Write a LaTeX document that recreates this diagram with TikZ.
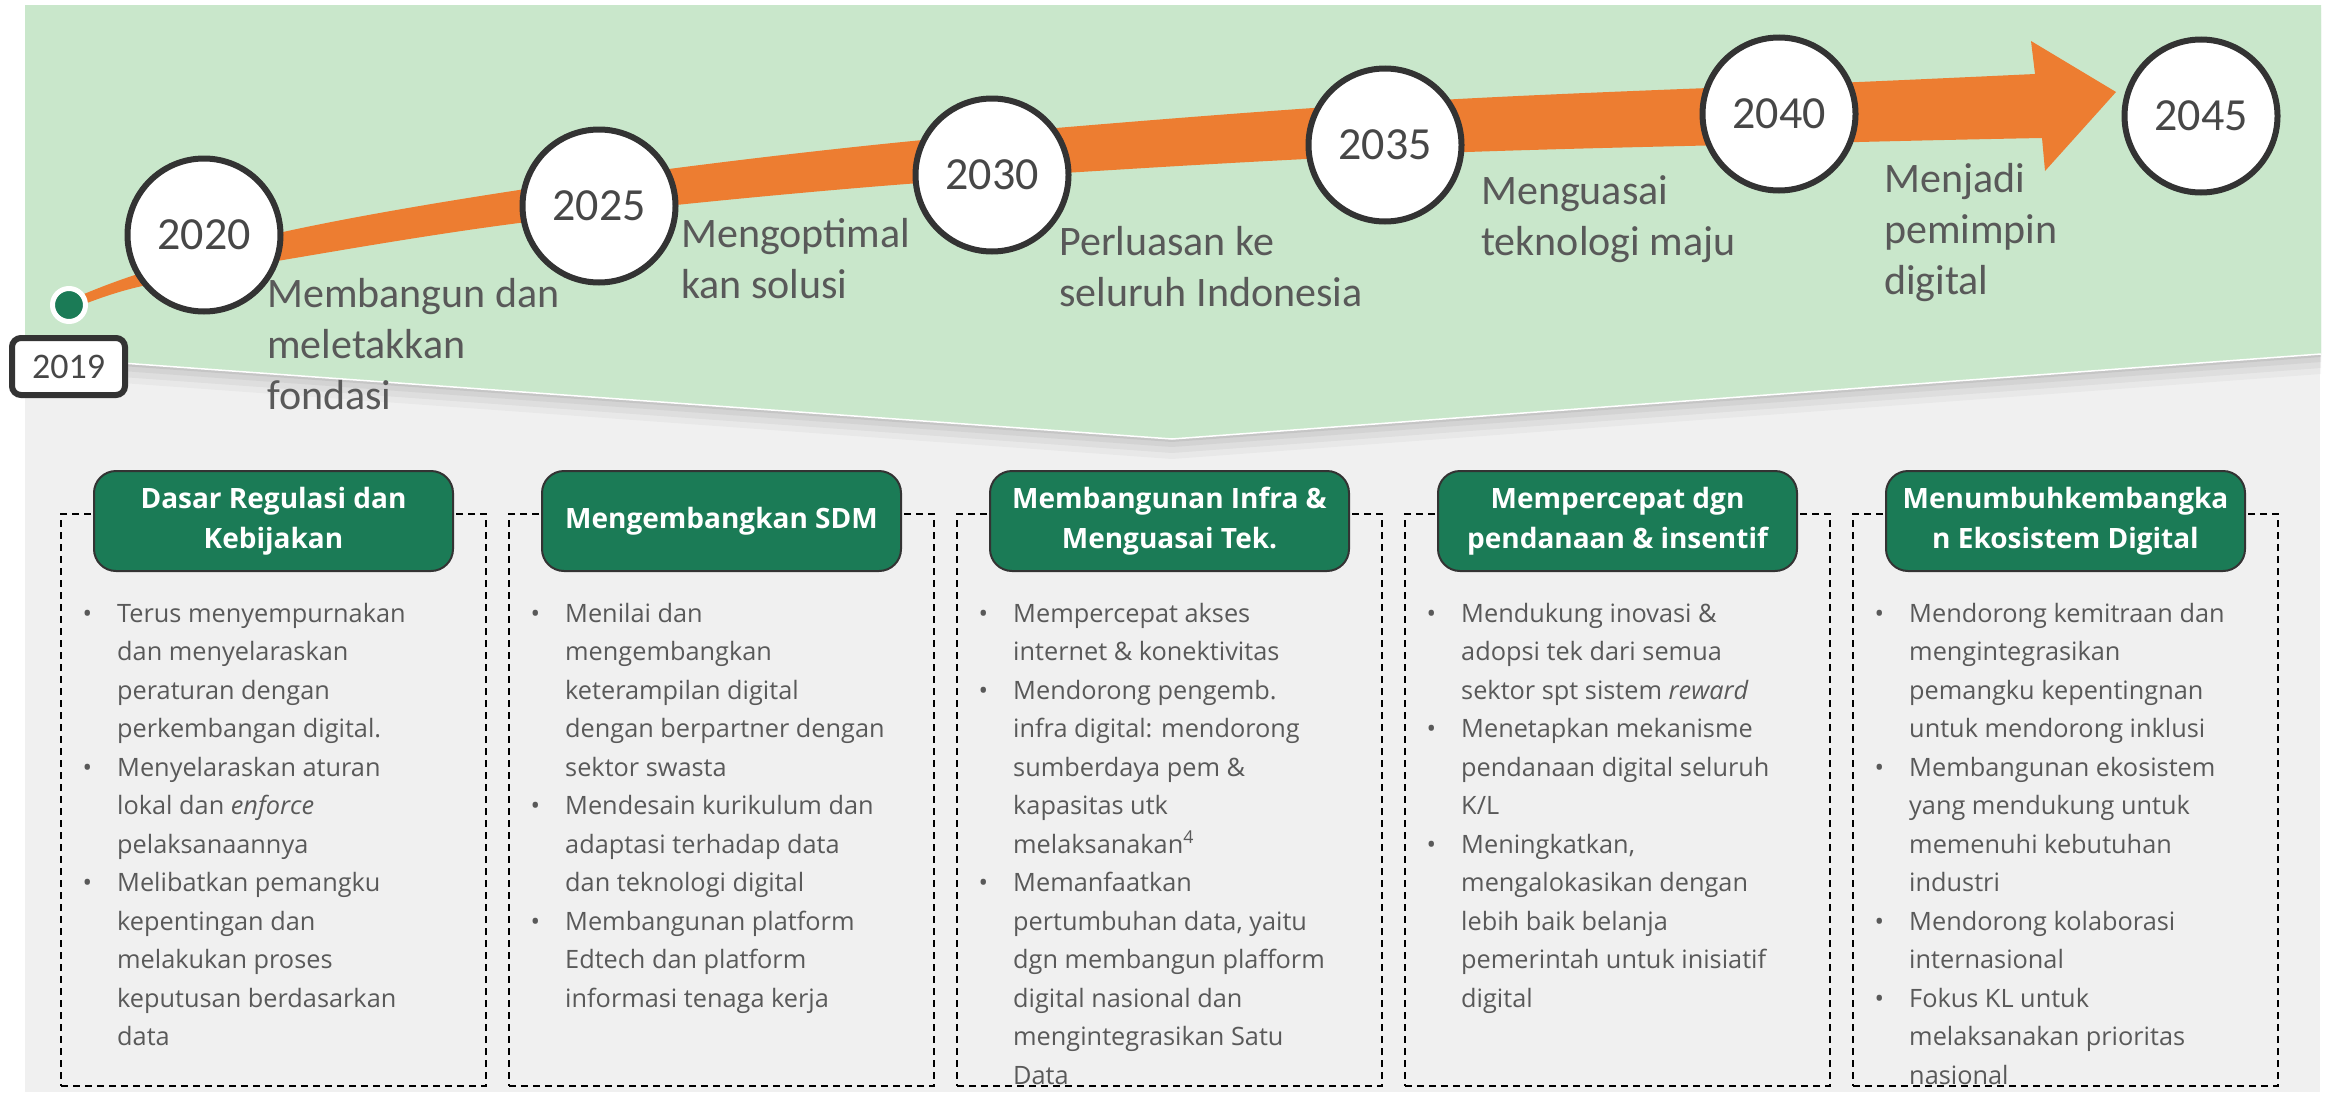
\documentclass[tikz,border=0pt]{standalone}
\usepackage{fontspec}
\setmainfont{Open Sans}
\newfontfamily\calfont{Carlito}
\definecolor{bggreen}{HTML}{C9E7CB}
\definecolor{hdgreen}{HTML}{1B7B56}
\definecolor{arrorange}{HTML}{ED7D31}
\definecolor{panelgray}{HTML}{F0F0F0}
\definecolor{txtgray}{HTML}{595959}
\definecolor{rimgray}{HTML}{333333}
\newcommand\bul{\llap{•\hspace{25pt}}}
\begin{document}
\begin{tikzpicture}[x=1pt, y=-1pt,
  yearnode/.style={circle, draw=rimgray, line width=6pt, fill=white, minimum size=153pt, inner sep=0pt, text=rimgray!90, font=\calfont\fontsize{46}{46}\selectfont},
  phase/.style={anchor=base west, align=left, inner sep=0pt, text=txtgray, font=\calfont\fontsize{42}{51}\selectfont},
  colbox/.style={draw=black, line width=2pt, dash pattern=on 7pt off 5pt, minimum width=425pt, minimum height=572pt, inner sep=0pt},
  headbox/.style={draw=rimgray, line width=2pt, fill=hdgreen, rounded corners=22pt, minimum width=359pt, minimum height=100pt, align=center, inner sep=0pt, text=white, font=\bfseries\fontsize{28}{40}\selectfont},
  bultext/.style={anchor=base west, align=left, inner sep=0pt, text=txtgray, font=\fontsize{25.3}{38.5}\selectfont}]
\useasboundingbox (0,0) rectangle (2325,1092);
% panel and green chevron
\fill[panelgray] (25,5) rectangle (2320,1092);
\foreach \d/\o in {3/0.06, 8/0.05, 14/0.04, 20/0.03}
  \fill[black, opacity=\o, shift={(0,\d)}] (25,5) -- (2321,5) -- (2321,354) -- (1172,439) -- (25,356) -- cycle;
\fill[bggreen] (25,5) -- (2321,5) -- (2321,354) -- (1172,439) -- (25,356) -- cycle;
\draw[white, line width=1.5pt] (25,356) -- (1172,439) -- (2321,354);
% orange arrow
\fill[arrorange] plot[smooth, tension=0.6] coordinates {(70,300) (138,274) (283,232) (519,190) (800,153) (1080,126) (1440,100) (1859,82) (2035,74)}
  -- (2031,41) -- (2116,92) -- (2045,171) -- (2042,138)
  -- plot[smooth, tension=0.6] coordinates {(2042,138) (1859,142) (1440,153) (1080,172) (800,193) (519,223) (283,260) (138,287) (70,310)} -- cycle;

\node[circle, fill=hdgreen, draw=white, line width=5pt, minimum size=33pt, inner sep=0pt] (start) at (69,305) {};
\node[draw=rimgray, line width=6pt, fill=white, rounded corners=9pt, minimum width=113pt, minimum height=57pt, inner sep=0pt, text=rimgray!90, font=\calfont\fontsize{36}{36}\selectfont] (y2019) at (68.5,366.5) {2019};

\node[yearnode] (y2020) at (204,235) {2020};
\node[yearnode] (y2025) at (599,206) {2025};
\node[yearnode] (y2030) at (992,175) {2030};
\node[yearnode] (y2035) at (1385,145) {2035};
\node[yearnode] (y2040) at (1779,114) {2040};
\node[yearnode] (y2045) at (2201,116) {2045};

% base = baseline of the last line
\node[phase] (p2020) at (267,409) {Membangun dan\\meletakkan\\fondasi};
\node[phase] (p2025) at (681,298) {Mengoptimal\\kan solusi};
\node[phase] (p2030) at (1059,306) {Perluasan ke\\seluruh Indonesia};
\node[phase] (p2035) at (1481,255) {Menguasai\\teknologi maju};
\node[phase] (p2040) at (1884,294) {Menjadi\\pemimpin\\digital};

% pillars
\node[colbox] (c1) at (273.5,800) {};
\node[colbox] (c2) at (721.5,800) {};
\node[colbox] (c3) at (1169.5,800) {};
\node[colbox] (c4) at (1617.5,800) {};
\node[colbox] (c5) at (2065.5,800) {};

\node[headbox] (h1) at (273.5,521) {Dasar Regulasi dan\\Kebijakan};
\node[headbox] (h2) at (721.5,521) {Mengembangkan SDM};
\node[headbox] (h3) at (1169.5,521) {Membangunan Infra \&\\Menguasai Tek.};
\node[headbox] (h4) at (1617.5,521) {Mempercepat dgn\\pendanaan \& insentif};
\node[headbox] (h5) at (2065.5,521) {Menumbuhkembangka\\n Ekosistem Digital};

\node[bultext] (t1) at (117,1045.5) {\bul Terus menyempurnakan\\dan menyelaraskan\\peraturan dengan\\perkembangan digital.\\
  \bul Menyelaraskan aturan\\lokal dan \textit{enforce}\\pelaksanaannya\\
  \bul Melibatkan pemangku\\kepentingan dan\\melakukan proses\\keputusan berdasarkan\\data};
\node[bultext] (t2) at (565,1007) {\bul Menilai dan\\mengembangkan\\keterampilan digital\\dengan berpartner dengan\\sektor swasta\\
  \bul Mendesain kurikulum dan\\adaptasi terhadap data\\dan teknologi digital\\
  \bul Membangunan platform\\Edtech dan platform\\informasi tenaga kerja};
\node[bultext] (t3) at (1013,1084) {\bul Mempercepat akses\\internet \& konektivitas\\
  \bul Mendorong pengemb.\\infra digital: mendorong\\sumberdaya pem \&\\kapasitas utk\\melaksanakan\textsuperscript{4}\\
  \bul Memanfaatkan\\pertumbuhan data, yaitu\\dgn membangun plafform\\digital nasional dan\\mengintegrasikan Satu\\Data};
\node[bultext] (t4) at (1461,1007) {\bul Mendukung inovasi \&\\adopsi tek dari semua\\sektor spt sistem \textit{reward}\\
  \bul Menetapkan mekanisme\\pendanaan digital seluruh\\K/L\\
  \bul Meningkatkan,\\mengalokasikan dengan\\lebih baik belanja\\pemerintah untuk inisiatif\\digital};
\node[bultext] (t5) at (1909,1084) {\bul Mendorong kemitraan dan\\mengintegrasikan\\pemangku kepentingnan\\untuk mendorong inklusi\\
  \bul Membangunan ekosistem\\yang mendukung untuk\\memenuhi kebutuhan\\industri\\
  \bul Mendorong kolaborasi\\internasional\\
  \bul Fokus KL untuk\\melaksanakan prioritas\\nasional};
\end{tikzpicture}
\end{document}
